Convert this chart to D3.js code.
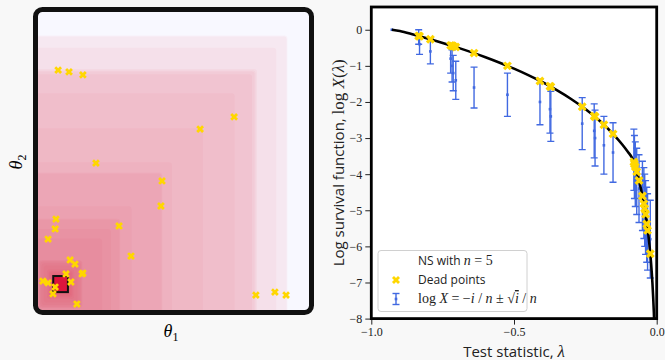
<!DOCTYPE html>
<html>
<head>
<meta charset="utf-8">
<script src="https://cdn.jsdelivr.net/npm/d3@7"></script>
<style>
  body { margin: 0; background: #f8f8f8; }
  svg { display: block; }
</style>
</head>
<body>
<div id="chart"></div>
<script>
// ---- left panel: unit square, likelihood centre, dead points
const center = [0.083, 0.087]
const targetHalf = 0.027
const theta1 = [0.074, 0.114, 0.165, 0.721, 0.596, 0.213, 0.456, 0.452, 0.298, 0.342,
  0.066, 0.063, 0.037, 0.118, 0.136, 0.162, 0.165, 0.103, 0.121, 0.018,
  0.037, 0.063, 0.055, 0.143, 0.801, 0.871, 0.912]
const theta2 = [0.805, 0.799, 0.789, 0.648, 0.607, 0.493, 0.433, 0.349, 0.282, 0.181,
  0.305, 0.272, 0.238, 0.168, 0.154, 0.121, 0.124, 0.121, 0.094, 0.097,
  0.091, 0.077, 0.054, 0.020, 0.050, 0.060, 0.050]

// ---- right panel: survival curve
const curveLambda = [-0.928, -0.9, -0.85, -0.8, -0.75, -0.7, -0.65, -0.6, -0.55, -0.5,
  -0.45, -0.4, -0.35, -0.3, -0.25, -0.2, -0.15, -0.12, -0.1, -0.087,
  -0.08, -0.07, -0.06, -0.05, -0.04, -0.03, -0.025, -0.02, -0.015, -0.01, -0.007]
const curveLogX = [0, -0.033, -0.138, -0.248, -0.364, -0.488, -0.620, -0.761, -0.913, -1.078,
  -1.257, -1.453, -1.672, -1.917, -2.196, -2.521, -2.910, -3.184, -3.391, -3.538,
  -3.665, -3.932, -4.240, -4.605, -5.051, -5.627, -5.991, -6.438, -7.013, -7.824, -8.5]

// dead points i = 1..29
const deadLambda = [-0.834, -0.831, -0.793, -0.722, -0.717, -0.713, -0.704, -0.640, -0.523, -0.409,
  -0.374, -0.371, -0.261, -0.219, -0.216, -0.185, -0.153, -0.080, -0.078, -0.075,
  -0.070, -0.062, -0.050, -0.045, -0.042, -0.039, -0.035, -0.032, -0.0225]
const deadLogX = [-0.172, -0.179, -0.264, -0.433, -0.445, -0.455, -0.478, -0.647, -1.000, -1.417,
  -1.564, -1.577, -2.131, -2.391, -2.411, -2.630, -2.884, -3.665, -3.716, -3.794,
  -3.932, -4.175, -4.605, -4.816, -4.954, -5.110, -5.378, -5.557, -6.202]

// error bars i = 0..29
const barLambda = [-0.928].concat(deadLambda)
const barMean = [0, -0.2, -0.4, -0.6, -0.8, -1.0, -1.2, -1.4, -1.6, -1.8,
  -2.0, -2.2, -2.4, -2.6, -2.8, -3.0, -3.2, -3.4, -3.6, -3.8,
  -4.0, -4.2, -4.4, -4.6, -4.8, -5.0, -5.2, -5.4, -5.6, -5.8]
const barErr = [0, 0.2, 0.283, 0.346, 0.4, 0.447, 0.49, 0.529, 0.566, 0.6,
  0.632, 0.663, 0.693, 0.721, 0.748, 0.775, 0.8, 0.825, 0.849, 0.872,
  0.894, 0.917, 0.938, 0.959, 0.98, 1.0, 1.02, 1.039, 1.058, 1.077]

const xTicks = [-1, -0.5, 0]
const yTicks = [-8, -7, -6, -5, -4, -3, -2, -1, 0]

const W = 665, H = 360
const gold = "#ffd700", blue = "#4169e1", sansFont = "'Open Sans', sans-serif", serifFont = "'Liberation Serif', serif"

const svg = d3.select("#chart").append("svg")
  .attr("width", W).attr("height", H)

const defs = svg.append("defs")
const xMark = (size) => d3.symbol().type(d3.symbolCross).size(size)

// ================= left panel =================
const lx = d3.scaleLinear().domain([0, 1]).range([38, 310])
const ly = d3.scaleLinear().domain([0, 1]).range([310, 12])

defs.append("clipPath").attr("id", "leftClip")
  .append("rect").attr("x", 35.5).attr("y", 9.5).attr("width", 276).attr("height", 303).attr("rx", 7)

const left = svg.append("g")
left.append("rect")
  .attr("x", 35.5).attr("y", 9.5).attr("width", 276).attr("height", 303).attr("rx", 7)
  .attr("fill", "ghostwhite")

const contours = left.append("g").attr("clip-path", "url(#leftClip)")
contours.selectAll("rect.level")
  .data(deadLambda)
  .enter().append("rect")
  .attr("class", "level")
  .attr("x", d => lx(center[0] + d))
  .attr("y", d => ly(center[1] - d))
  .attr("width", d => lx(center[0] - d) - lx(center[0] + d))
  .attr("height", d => ly(center[1] + d) - ly(center[1] - d))
  .attr("rx", 3)
  .attr("fill", "crimson")
  .attr("fill-opacity", 0.036)

contours.append("rect")
  .attr("x", lx(center[0] - targetHalf))
  .attr("y", ly(center[1] + targetHalf))
  .attr("width", lx(center[0] + targetHalf) - lx(center[0] - targetHalf))
  .attr("height", ly(center[1] - targetHalf) - ly(center[1] + targetHalf))
  .attr("fill", "#dc143c")
  .attr("stroke", "#111")
  .attr("stroke-width", 2)

contours.selectAll("path.dead")
  .data(theta1.map((t, i) => [t, theta2[i]]))
  .enter().append("path")
  .attr("class", "dead")
  .attr("d", xMark(38))
  .attr("transform", d => `translate(${lx(d[0])},${ly(d[1])}) rotate(45)`)
  .attr("fill", gold)

left.append("rect")
  .attr("x", 35.5).attr("y", 9.5).attr("width", 276).attr("height", 303).attr("rx", 7)
  .attr("fill", "none").attr("stroke", "#111").attr("stroke-width", 5)

const t1 = svg.append("text").attr("x", 171).attr("y", 337)
  .attr("text-anchor", "middle").attr("font-family", serifFont).attr("font-size", 18)
t1.append("tspan").attr("font-style", "italic").text("θ")
t1.append("tspan").attr("font-size", 12).attr("dy", 4).text("1")

const t2 = svg.append("text").attr("transform", "translate(22,162) rotate(-90)")
  .attr("text-anchor", "middle").attr("font-family", serifFont).attr("font-size", 18)
t2.append("tspan").attr("font-style", "italic").text("θ")
t2.append("tspan").attr("font-size", 12).attr("dy", 4).text("2")

// ================= right panel =================
const rx = d3.scaleLinear().domain([-1, 0]).range([371.3, 656.7])
const ry = d3.scaleLinear().domain([-8, 0.63]).range([318.6, 7])

defs.append("clipPath").attr("id", "rightClip")
  .append("rect").attr("x", rx(-1)).attr("y", ry(0.63))
  .attr("width", rx(0) - rx(-1)).attr("height", ry(-8) - ry(0.63))

const right = svg.append("g")
right.append("rect")
  .attr("x", rx(-1)).attr("y", ry(0.63))
  .attr("width", rx(0) - rx(-1)).attr("height", ry(-8) - ry(0.63))
  .attr("fill", "#fff")

const plot = right.append("g").attr("clip-path", "url(#rightClip)")

// error bars
const bars = barLambda.map((l, i) => ({ l, m: barMean[i], e: barErr[i] }))
const bg = plot.selectAll("g.bar").data(bars).enter().append("g").attr("class", "bar")
  .attr("stroke", blue).attr("stroke-width", 1.4)
bg.append("line")
  .attr("x1", d => rx(d.l)).attr("x2", d => rx(d.l))
  .attr("y1", d => ry(d.m + d.e)).attr("y2", d => ry(d.m - d.e))
bg.filter(d => d.e > 0).append("line")
  .attr("x1", d => rx(d.l) - 3.5).attr("x2", d => rx(d.l) + 3.5)
  .attr("y1", d => ry(d.m + d.e)).attr("y2", d => ry(d.m + d.e))
bg.filter(d => d.e > 0).append("line")
  .attr("x1", d => rx(d.l) - 3.5).attr("x2", d => rx(d.l) + 3.5)
  .attr("y1", d => ry(d.m - d.e)).attr("y2", d => ry(d.m - d.e))
bg.append("rect")
  .attr("x", d => rx(d.l) - 1.3).attr("y", d => ry(d.m) - 1.3)
  .attr("width", 2.6).attr("height", 2.6)
  .attr("stroke", "none").attr("fill", blue)

// survival curve
const line = d3.line()
  .x((d, i) => rx(curveLambda[i]))
  .y(d => ry(d))
  .curve(d3.curveMonotoneX)
plot.append("path")
  .datum(curveLogX)
  .attr("d", line)
  .attr("fill", "none").attr("stroke", "#000").attr("stroke-width", 2.6)

// dead points
plot.selectAll("path.dp")
  .data(deadLambda.map((l, i) => [l, deadLogX[i]]))
  .enter().append("path")
  .attr("class", "dp")
  .attr("d", xMark(50))
  .attr("transform", d => `translate(${rx(d[0])},${ry(d[1])}) rotate(45)`)
  .attr("fill", gold)

// axes
const xAxis = right.append("g").attr("transform", `translate(0,${ry(-8)})`)
  .call(d3.axisBottom(rx).tickValues(xTicks).tickFormat(d3.format(".1f")).tickSize(6).tickPadding(3))
const yAxis = right.append("g").attr("transform", `translate(${rx(-1)},0)`)
  .call(d3.axisLeft(ry).tickValues(yTicks).tickFormat(d3.format("d")).tickSize(6).tickPadding(3))
;[xAxis, yAxis].forEach(a => {
  a.select(".domain").remove()
  a.selectAll("line").attr("stroke", "#222").attr("stroke-width", 1)
  a.selectAll("text").attr("font-family", serifFont).attr("font-size", 12).attr("fill", "#222")
})

right.append("rect")
  .attr("x", rx(-1)).attr("y", ry(0.63))
  .attr("width", rx(0) - rx(-1)).attr("height", ry(-8) - ry(0.63))
  .attr("fill", "none").attr("stroke", "#000").attr("stroke-width", 2.8)

// axis labels
const xl = svg.append("text").attr("x", (rx(-1) + rx(0)) / 2).attr("y", 357)
  .attr("text-anchor", "middle").attr("font-family", sansFont).attr("font-size", 15).attr("fill", "#222")
xl.append("tspan").text("Test statistic, ")
xl.append("tspan").attr("font-family", serifFont).attr("font-style", "italic").attr("font-size", 17).text("λ")

const yl = svg.append("text").attr("transform", `translate(344,${(ry(0.63) + ry(-8)) / 2}) rotate(-90)`)
  .attr("text-anchor", "middle").attr("font-family", sansFont).attr("font-size", 15).attr("fill", "#222")
yl.append("tspan").text("Log survival function, ")
yl.append("tspan").attr("font-family", serifFont).attr("font-size", 17).text("log ")
yl.append("tspan").attr("font-family", serifFont).attr("font-style", "italic").attr("font-size", 17).text("X")
yl.append("tspan").attr("font-family", serifFont).attr("font-size", 17).text("(")
yl.append("tspan").attr("font-family", serifFont).attr("font-style", "italic").attr("font-size", 17).text("λ")
yl.append("tspan").attr("font-family", serifFont).attr("font-size", 17).text(")")

// legend
const lg = svg.append("g")
lg.append("rect").attr("x", 378).attr("y", 250.5).attr("width", 149).attr("height", 61).attr("rx", 3)
  .attr("fill", "#fff").attr("fill-opacity", 0.85).attr("stroke", "#d0d0d0").attr("stroke-width", 1)

const lt1 = lg.append("text").attr("x", 418).attr("y", 265).attr("font-family", sansFont).attr("font-size", 12).attr("fill", "#222")
lt1.append("tspan").text("NS with ")
lt1.append("tspan").attr("font-family", serifFont).attr("font-style", "italic").attr("font-size", 14).text("n")
lt1.append("tspan").attr("font-family", serifFont).attr("font-size", 14).text(" = 5")

lg.append("path").attr("d", xMark(40)).attr("transform", "translate(396,280) rotate(45)").attr("fill", gold)
lg.append("text").attr("x", 418).attr("y", 284).attr("font-family", sansFont).attr("font-size", 12).attr("fill", "#222")
  .text("Dead points")

const hb = lg.append("g").attr("stroke", blue).attr("stroke-width", 1.4)
hb.append("line").attr("x1", 396).attr("x2", 396).attr("y1", 293.5).attr("y2", 304.5)
hb.append("line").attr("x1", 392.5).attr("x2", 399.5).attr("y1", 293.5).attr("y2", 293.5)
hb.append("line").attr("x1", 392.5).attr("x2", 399.5).attr("y1", 304.5).attr("y2", 304.5)
lg.append("rect").attr("x", 394.7).attr("y", 297.7).attr("width", 2.6).attr("height", 2.6).attr("fill", blue)

const lt3 = lg.append("text").attr("x", 418).attr("y", 303).attr("font-family", serifFont).attr("font-size", 14).attr("fill", "#222")
lt3.append("tspan").text("log ")
lt3.append("tspan").attr("font-style", "italic").text("X")
lt3.append("tspan").text(" = −")
lt3.append("tspan").attr("font-style", "italic").text("i")
lt3.append("tspan").text(" / ")
lt3.append("tspan").attr("font-style", "italic").text("n")
lt3.append("tspan").text(" ± √")
lt3.append("tspan").attr("font-style", "italic").style("text-decoration", "overline").text("i")
lt3.append("tspan").text(" / ")
lt3.append("tspan").attr("font-style", "italic").text("n")
</script>
</body>
</html>
